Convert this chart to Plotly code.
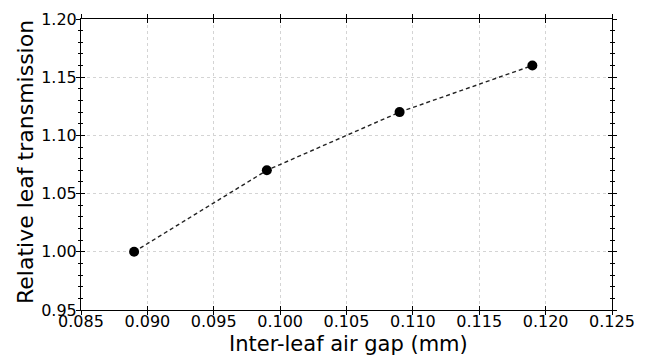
import plotly.graph_objects as go

air_gap_mm = [0.089, 0.099, 0.109, 0.119]
rel_transmission = [1.00, 1.07, 1.12, 1.16]

x_ticks = [0.085, 0.090, 0.095, 0.100, 0.105, 0.110, 0.115, 0.120, 0.125]
x_labels = ["0.085", "0.090", "0.095", "0.100", "0.105", "0.110", "0.115", "0.120", "0.125"]
y_ticks = [0.95, 1.00, 1.05, 1.10, 1.15, 1.20]
y_labels = ["0.95", "1.00", "1.05", "1.10", "1.15", "1.20"]

x_title = "Inter-leaf air gap (mm)"
y_title = "Relative leaf transmission"

x_range = [0.085, 0.125]
y_range = [0.95, 1.20]

FONT = "DejaVu Sans"
W, H = 650, 356
ML, MR, MT, MB = 81, 38, 19, 46
PW, PH = W - ML - MR, H - MT - MB

fig = go.Figure()
fig.add_trace(go.Scatter(
    x=air_gap_mm, y=rel_transmission, mode="lines+markers",
    line=dict(color="#222222", width=1.4, dash="4px,3px"),
    marker=dict(color="black", size=10),
    showlegend=False, hoverinfo="skip",
))
# invisible trace to anchor the overlay axes (outer halves of the crossing ticks)
fig.add_trace(go.Scatter(
    x=[x_range[0]], y=[y_range[0]], xaxis="x2", yaxis="y2",
    mode="markers", marker=dict(opacity=0), showlegend=False, hoverinfo="skip",
))

common = dict(showline=True, linecolor="black", linewidth=1, ticks="inside",
              tickcolor="black", tickwidth=1, ticklen=4, mirror="allticks",
              zeroline=False, showgrid=True, gridcolor="#d4d4d4", gridwidth=1,
              griddash="dot", automargin=False,
              tickfont=dict(family=FONT, size=16, color="black"))

fig.update_layout(
    width=W, height=H,
    margin=dict(l=ML, r=MR, t=MT, b=MB, autoexpand=False),
    paper_bgcolor="white", plot_bgcolor="white",
    font=dict(family=FONT, color="black"),
    xaxis=dict(range=x_range, tickvals=x_ticks, ticktext=x_labels, ticklabelstandoff=-3, **common),
    yaxis=dict(range=y_range, tickvals=y_ticks, ticktext=y_labels,
               minor=dict(ticks="inside", dtick=0.01, ticklen=2, tickcolor="black", tickwidth=1, showgrid=False),
               **common),
    xaxis2=dict(range=x_range, tickvals=x_ticks, overlaying="x", side="bottom",
                ticks="outside", ticklen=4, tickcolor="black", tickwidth=1, mirror="allticks",
                showline=False, showgrid=False, zeroline=False, showticklabels=False, automargin=False),
    yaxis2=dict(range=y_range, tickvals=y_ticks, overlaying="y", side="left",
                ticks="outside", ticklen=4, tickcolor="black", tickwidth=1, mirror="allticks",
                minor=dict(ticks="outside", dtick=0.01, ticklen=2, tickcolor="black", tickwidth=1, showgrid=False),
                showline=False, showgrid=False, zeroline=False, showticklabels=False, automargin=False),
    annotations=[
        dict(text=x_title, xref="paper", yref="paper",
             x=(348 - ML) / PW, y=(H - MB - 344) / PH, xanchor="center", yanchor="middle",
             showarrow=False, font=dict(family=FONT, size=21, color="black")),
        dict(text=y_title, xref="paper", yref="paper", textangle=-90,
             x=(25 - ML) / PW, y=(H - MB - 162) / PH, xanchor="center", yanchor="middle",
             showarrow=False, font=dict(family=FONT, size=22, color="black")),
    ],
)

fig.write_html("out.html")
